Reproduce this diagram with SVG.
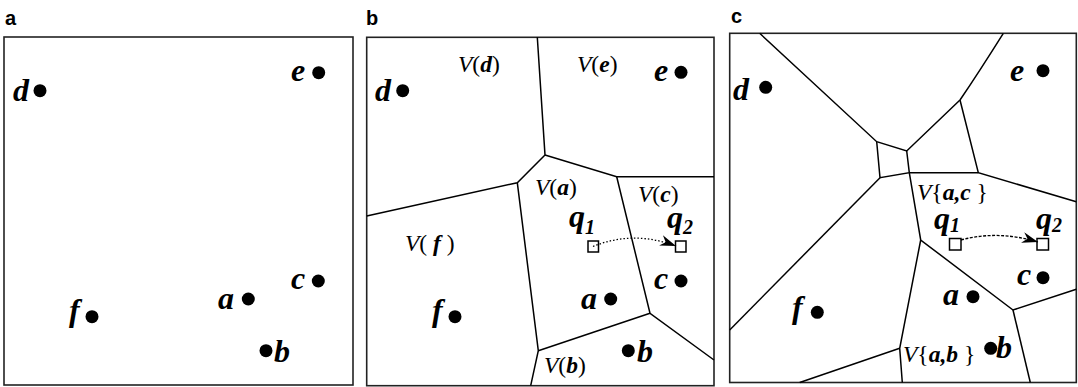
<svg xmlns="http://www.w3.org/2000/svg" width="1078" height="387" viewBox="0 0 1078 387">
<style>
.frame{fill:none;stroke:#222;stroke-width:1.6}
.edge{fill:none;stroke:#000;stroke-width:1.5}
.pt{fill:#000}
.lbl{font-family:"Liberation Serif","Times New Roman",serif;font-weight:bold;font-style:italic;font-size:32px;fill:#000}
.sub{font-size:20px}
.reg{font-family:"Liberation Serif","Times New Roman",serif;font-style:italic;font-size:23.5px;fill:#000}
.up{font-style:normal}
.bi{font-weight:bold}
.panel{font-family:"Liberation Sans",Arial,sans-serif;font-weight:bold;font-size:20px;fill:#000}
.q{fill:#fff;stroke:#000;stroke-width:1.5}
.arc{fill:none;stroke:#000;stroke-width:1.3}
</style>
<defs>
<marker id="ah" markerUnits="userSpaceOnUse" markerWidth="17" markerHeight="11" viewBox="0 0 17 11" refX="16" refY="5.5" orient="auto">
<path d="M0,0 L16,5.5 L0,11 L5,5.5 z" fill="#000"/>
</marker>
</defs>

<!-- Panel a -->
<g id="panel-a">
<text class="panel" x="5" y="25">a</text>
<rect class="frame" x="4" y="37" width="349" height="348"/>
<g id="a-d"><circle class="pt" cx="40" cy="90.7" r="6.5"/><text class="lbl" x="13" y="101">d</text></g>
<g id="a-e"><circle class="pt" cx="318.7" cy="72.7" r="6.5"/><text class="lbl" x="291" y="81">e</text></g>
<g id="a-c"><circle class="pt" cx="318.3" cy="281" r="6.5"/><text class="lbl" x="291" y="289">c</text></g>
<g id="a-a"><circle class="pt" cx="248.3" cy="299" r="6.5"/><text class="lbl" x="218" y="309">a</text></g>
<g id="a-f"><circle class="pt" cx="92" cy="316.7" r="6.5"/><text class="lbl" x="69" y="321">f</text></g>
<g id="a-b"><circle class="pt" cx="266" cy="350.7" r="6.5"/><text class="lbl" x="274" y="362">b</text></g>
</g>

<!-- Panel b -->
<g id="panel-b">
<text class="panel" x="366" y="25">b</text>
<rect class="frame" x="366.7" y="37.3" width="347.3" height="348.4"/>
<g id="b-edges">
<polyline class="edge" points="537.3,37.3 545,155 517.3,182.7 366.7,216"/>
<polyline class="edge" points="545,155 616.7,176.7 714,176.7"/>
<polyline class="edge" points="517.3,182.7 538.3,350.7 530.7,385.7"/>
<polyline class="edge" points="616.7,176.7 650,313.3 714,360"/>
<line class="edge" x1="538.3" y1="350.7" x2="650" y2="313.3"/>
</g>
<g id="b-d"><circle class="pt" cx="402.7" cy="90.7" r="6.5"/><text class="lbl" x="375" y="101">d</text></g>
<g id="b-e"><circle class="pt" cx="681" cy="72.3" r="6.5"/><text class="lbl" x="654" y="81">e</text></g>
<g id="b-c"><circle class="pt" cx="681" cy="281" r="6.5"/><text class="lbl" x="654" y="289">c</text></g>
<g id="b-a"><circle class="pt" cx="610.7" cy="299" r="6.5"/><text class="lbl" x="581" y="309">a</text></g>
<g id="b-f"><circle class="pt" cx="455" cy="316.7" r="6.5"/><text class="lbl" x="432" y="321">f</text></g>
<g id="b-b"><circle class="pt" cx="628.3" cy="350.7" r="6.5"/><text class="lbl" x="637" y="362">b</text></g>
<text class="reg" x="458" y="72">V<tspan class="up">(</tspan><tspan class="bi">d</tspan><tspan class="up">)</tspan></text>
<text class="reg" x="577" y="72">V<tspan class="up">(</tspan><tspan class="bi">e</tspan><tspan class="up">)</tspan></text>
<text class="reg" x="535" y="195">V<tspan class="up">(</tspan><tspan class="bi">a</tspan><tspan class="up">)</tspan></text>
<text class="reg" x="638" y="202">V<tspan class="up">(</tspan><tspan class="bi">c</tspan><tspan class="up">)</tspan></text>
<text class="reg" x="405" y="251" xml:space="preserve">V<tspan class="up">( </tspan><tspan class="bi">f</tspan><tspan class="up"> )</tspan></text>
<text class="reg" x="544" y="373">V<tspan class="up">(</tspan><tspan class="bi">b</tspan><tspan class="up">)</tspan></text>
<g id="b-q1"><rect class="q" x="588" y="241" width="10.5" height="11"/><text class="lbl" x="569" y="227">q<tspan class="sub" dy="7">1</tspan></text></g>
<g id="b-q2"><rect class="q" x="675.5" y="241" width="10.5" height="11"/><text class="lbl" x="667" y="228">q<tspan class="sub" dy="6">2</tspan></text></g>
<g id="b-connector"><path class="arc" d="M593,246.5 Q633,230 676,246" stroke-dasharray="1.5 2" marker-end="url(#ah)"/></g>
</g>

<!-- Panel c -->
<g id="panel-c">
<text class="panel" x="731" y="23">c</text>
<rect class="frame" x="729.7" y="33.3" width="346.6" height="349.2"/>
<g id="c-edges">
<polyline class="edge" points="759.7,33.3 876.7,141.7 906.7,151 960,100"/>
<path class="edge" d="M960,100 Q979,72 1003.3,33.3"/>
<polyline class="edge" points="876.7,141.7 880,177.7 909.3,172.7 906.7,151"/>
<line class="edge" x1="880" y1="177.7" x2="729.7" y2="330"/>
<polyline class="edge" points="960,100 978.3,172.7 1076.3,201.7"/>
<line class="edge" x1="909.3" y1="172.7" x2="978.3" y2="172.7"/>
<polyline class="edge" points="909.3,172.7 920.7,240 1013,310 1076.3,289.3"/>
<line class="edge" x1="1013" y1="310" x2="1030.3" y2="382.5"/>
<polyline class="edge" points="920.7,240 899.7,348.3 902.3,382.5"/>
<line class="edge" x1="899.7" y1="348.3" x2="799.7" y2="382.5"/>
</g>
<g id="c-d"><circle class="pt" cx="765.7" cy="87.3" r="6.5"/><text class="lbl" x="733" y="100">d</text></g>
<g id="c-e"><circle class="pt" cx="1043" cy="70.7" r="6.5"/><text class="lbl" x="1010" y="81">e</text></g>
<g id="c-c"><circle class="pt" cx="1043" cy="277.7" r="6.5"/><text class="lbl" x="1017" y="285">c</text></g>
<g id="c-a"><circle class="pt" cx="973" cy="296.7" r="6.5"/><text class="lbl" x="943" y="305">a</text></g>
<g id="c-f"><circle class="pt" cx="817.3" cy="312.3" r="6.5"/><text class="lbl" x="792" y="318">f</text></g>
<g id="c-b"><circle class="pt" cx="990.7" cy="348.3" r="6.5"/><text class="lbl" x="996" y="358">b</text></g>
<text class="reg" x="917" y="200" xml:space="preserve">V<tspan class="up">{</tspan><tspan class="bi">a,c</tspan><tspan class="up"> }</tspan></text>
<text class="reg" x="903" y="362" xml:space="preserve">V<tspan class="up">{</tspan><tspan class="bi">a,b</tspan><tspan class="up"> }</tspan></text>
<g id="c-q1"><rect class="q" x="949.5" y="238.5" width="11.5" height="11.5"/><text class="lbl" x="934" y="229">q<tspan class="sub" dy="3">1</tspan></text></g>
<g id="c-q2"><rect class="q" x="1037" y="238.5" width="11.5" height="11.5"/><text class="lbl" x="1036" y="229">q<tspan class="sub" dy="3">2</tspan></text></g>
<g id="c-connector"><path class="arc" d="M961,240 Q998,230 1038,242" stroke-dasharray="3 1.5" marker-end="url(#ah)"/></g>
</g>
</svg>
